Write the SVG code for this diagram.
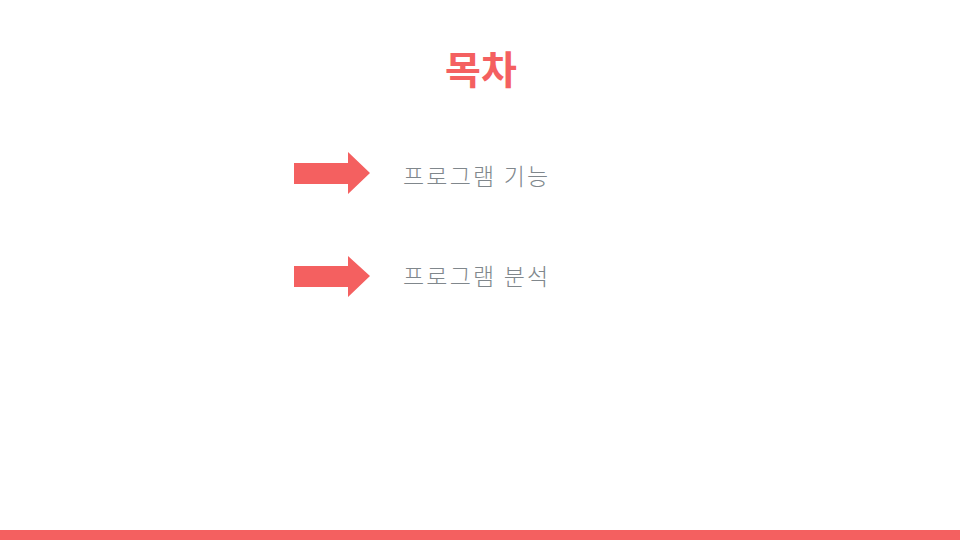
<svg xmlns="http://www.w3.org/2000/svg" width="960" height="540" viewBox="0 0 960 540">
<style>
.arrow{fill:#f46060}
.item{font-family:"Noto Sans CJK KR","Noto Sans",sans-serif;font-size:23px;font-weight:300;fill:#80878c;letter-spacing:2.2px}
.title{font-family:"Noto Sans CJK KR","Noto Sans",sans-serif;font-size:39px;font-weight:700;fill:#f46060}
</style>
<rect width="960" height="540" fill="#ffffff"/>
<g id="title"><text class="title" x="481" y="84" text-anchor="middle">목차</text></g>
<g id="arrows">
<polygon class="arrow" points="294,163 348,163 348,152 370,173 348,194 348,184 294,184"/>
<polygon class="arrow" points="294,266 348,266 348,256 370,276 348,297 348,287 294,287"/>
</g>
<g id="item1"><text class="item" x="403" y="185">프로그램 기능</text></g>
<g id="item2"><text class="item" x="403" y="285">프로그램 분석</text></g>
<rect id="bar" x="0" y="530" width="960" height="10" fill="#f46060"/>
</svg>
